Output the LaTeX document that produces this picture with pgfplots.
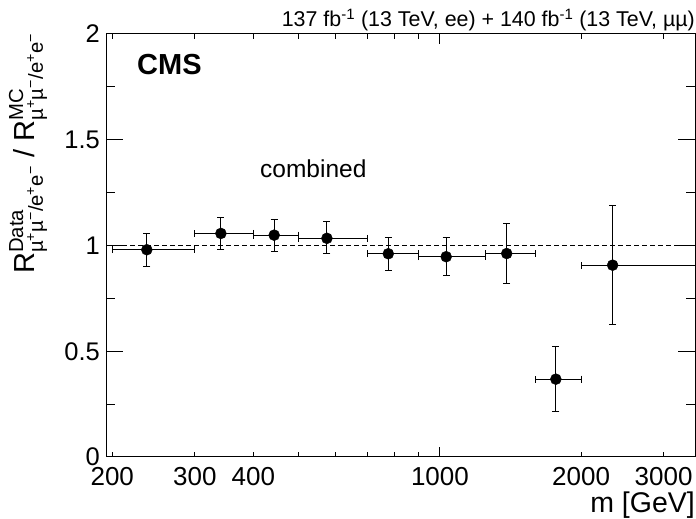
\documentclass[border=0pt]{standalone}
\usepackage{fontspec}
\setmainfont{Liberation Sans}
\usepackage{amsmath}
\usepackage{pgfplots}
\pgfplotsset{compat=1.18}
\usepackage{pgfplotstable}
\newcommand{\fs}[1]{\fontsize{#1}{#1}\selectfont}
\pgfplotstableread{
x    y     xp   xm   yp    ym
237  0.980 63   37   0.077 0.078
341  1.057 59   41   0.075 0.076
443  1.049 57   43   0.075 0.077
574  1.034 126  74   0.078 0.073
776  0.961 124  76   0.078 0.078
1031 0.947 219  131  0.089 0.089
1388 0.962 212  138  0.142 0.143
1767 0.368 233  167  0.156 0.154
2335 0.907 1165 335  0.280 0.281
}\datatable
\newcommand{\lep}{\text{\textmu\textsuperscript{+}\textmu\textsuperscript{\textminus}/e\textsuperscript{+}e\textsuperscript{\textminus}}}
\begin{document}
\begin{tikzpicture}
\useasboundingbox (-106pt,-62pt) rectangle (590pt,457pt);
% y ticks axis
\begin{axis}[
  scale only axis, width=589pt, height=423pt, at={(0pt,0pt)}, anchor=south west,
  xmode=log, xmin=194, xmax=3500, ymin=0, ymax=2,
  axis line style={line width=1pt, black},
  tick style={line width=1pt, black},
  clip=false,
  xtick=\empty,
  ytick={0,0.5,1,1.5,2}, yticklabels={0,0.5,1,1.5,2},
  minor ytick={0.25,0.75,1.25,1.75},
  major tick length=17pt, minor tick length=9pt,
  yticklabel style={font=\fs{25.5}, inner sep=0pt, anchor=east, xshift=-6pt},
]
\end{axis}
% x ticks + data axis
\begin{axis}[
  scale only axis, width=589pt, height=423pt, at={(0pt,0pt)}, anchor=south west,
  xmode=log, xmin=194, xmax=3500, ymin=0, ymax=2,
  axis line style={line width=1pt, black},
  tick style={line width=1pt, black},
  clip=false,
  ytick=\empty,
  xtick={1000}, xticklabels={1000},
  minor xtick={500,600,700,800,900},
  major tick length=10pt, minor tick length=5pt,
  extra x ticks={200,300,400,2000,3000},
  extra x tick labels={200,300,400,2000,3000},
  extra x tick style={major tick length=5pt},
  xticklabel style={font=\fs{26}, inner sep=0pt, anchor=north, yshift=-10pt},
]
\addplot[black, line width=1pt, dash pattern=on 5pt off 3pt] coordinates {(194,1) (3500,1)};
\addplot[only marks, mark=*, mark size=5.5pt, black,
  error bars/.cd, x dir=both, x explicit, y dir=both, y explicit,
  error bar style={line width=1pt, black},
  error mark=-,
  error mark options={rotate=90, line width=1pt, black, mark size=3.5pt}]
  table[x=x, y=y, x error plus=xp, x error minus=xm, y error plus=yp, y error minus=ym]{\datatable};
\end{axis}
\node[anchor=base west, inner sep=0pt, font=\bfseries\fs{29}] at (31pt,382pt) {CMS};
\node[anchor=base west, inner sep=0pt, font=\fs{24.5}] at (154pt,279pt) {combined};
\node[anchor=base east, inner sep=0pt, font=\fs{21.4}] at (589pt,430pt) {137 fb\textsuperscript{-1} (13 TeV, ee) + 140 fb\textsuperscript{-1} (13 TeV, \textmu\textmu)};
\node[anchor=base east, inner sep=0pt, font=\fs{28.5}] at (589pt,-56pt) {m [GeV]};
\node[anchor=base east, inner sep=0pt, rotate=90, font=\fs{29}] at (-71pt,424pt) {$\text{R}^{\text{Data}}_{\lep}\text{ / }\text{R}^{\text{MC}}_{\lep}$};
\end{tikzpicture}
\end{document}
